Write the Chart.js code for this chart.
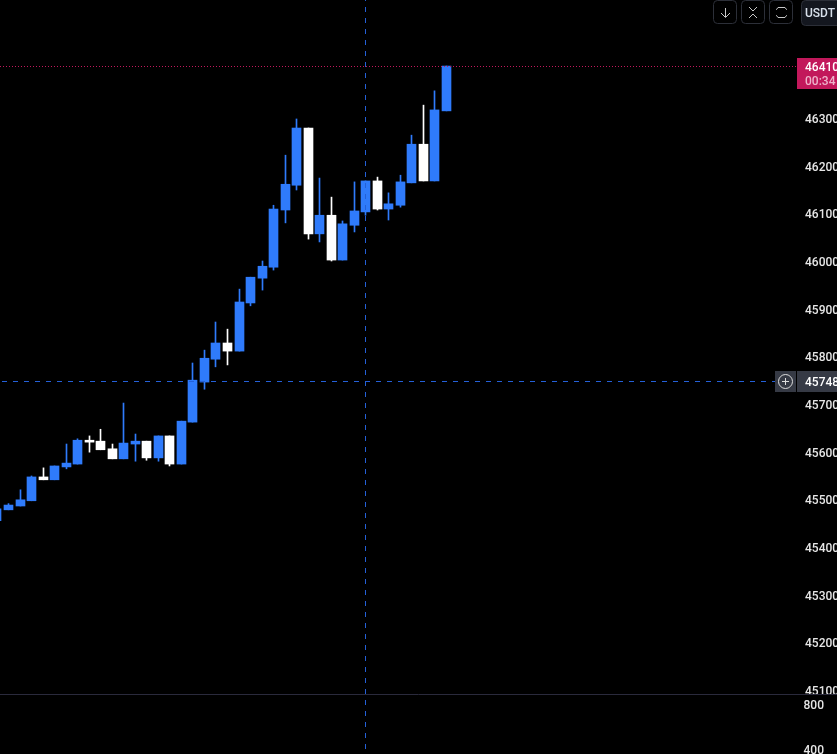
<!DOCTYPE html>
<html><head><meta charset="utf-8">
<style>html,body{margin:0;padding:0;background:#000;overflow:hidden}#w{position:relative;width:837px;height:754px}canvas{display:block}</style>
<script src="https://cdn.jsdelivr.net/npm/chart.js@4"></script>
</head><body><div id="w"><canvas id="c" width="837" height="754"></canvas></div>
<script>
const opens =[45455,45478,45486,45497,45547,45541,45568,45574,45624,45622,45606,45585,45616,45622,45587,45633,45574,45662,45746,45794,45828,45811,45912,45964,45987,46107,46159,46279,46057,46096,46002,46075,46103,46168,46109,46117,46164,46245,46168,46315];
const closes=[45480,45488,45499,45547,45541,45570,45576,45624,45620,45604,45585,45618,45622,45587,45633,45574,45664,45750,45796,45828,45811,45914,45966,45989,46109,46161,46279,46057,46096,46002,46078,46105,46168,46109,46120,46166,46245,46168,46317,46409];
const highs =[45480,45491,45520,45549,45566,45570,45616,45627,45633,45647,45616,45702,45637,45622,45633,45633,45664,45786,45813,45872,45857,45941,45966,46000,46117,46222,46298,46279,46174,46134,46084,46166,46168,46176,46143,46180,46264,46327,46357,46409];
const lows  =[45455,45478,45486,45497,45541,45541,45564,45574,45599,45604,45585,45585,45580,45582,45580,45570,45574,45662,45731,45778,45782,45811,45906,45939,45981,46080,46149,46046,46040,46000,46002,46061,46096,46107,46086,46113,46164,46168,46168,46315];
const priceTicks=[46300,46200,46100,46000,45900,45800,45700,45600,45500,45400,45300,45200,45100];
const volumeTicks=[800,400];
const lastPrice=46410, countdown='00:34', crossPrice=45748, crossIndex=32;
const unit='USDT';
const BLUE='#2f7bfb', WHITE='#ffffff', FG='#e6e6e6';

const idx=opens.map((_,i)=>i);
const wicks=idx.map(i=>({x:i,y:[lows[i],highs[i]]}));
const bodies=idx.map(i=>({x:i,y:[opens[i],closes[i]]}));
const colors=idx.map(i=>closes[i]>=opens[i]?BLUE:WHITE);

function rr(c,x,y,w,h,r){c.beginPath();c.roundRect(x,y,w,h,r);}
function line(c,pts){c.beginPath();pts.forEach((p,i)=>i?c.lineTo(p[0],p[1]):c.moveTo(p[0],p[1]));c.stroke();}

const snap={id:'snap',beforeDatasetsDraw(ch){
  ch.data.datasets.forEach((d,k)=>ch.getDatasetMeta(k).data.forEach(el=>{el.x=Math.floor(el.x)+.5;}));
}};
const under={id:'under',beforeDatasetsDraw(ch){
  const c=ch.ctx;c.save();c.lineWidth=1;
  c.strokeStyle='#2a2a3c';line(c,[[0,694.5],[837,694.5]]);
  c.restore();
}};
const over={id:'over',afterDraw(ch){
  const c=ch.ctx,py=ch.scales.y,px=ch.scales.x;c.save();c.lineWidth=1;
  const ly=Math.round(py.getPixelForValue(lastPrice));
  c.setLineDash([1,2]);c.strokeStyle='#c2185b';line(c,[[0,ly+.5],[797,ly+.5]]);
  const cy=Math.floor(py.getPixelForValue(crossPrice))+.5, cx=Math.floor(px.getPixelForValue(crossIndex))+.5;
  c.setLineDash([5,6]);c.strokeStyle='#2460d8';
  line(c,[[2,cy],[775,cy]]);line(c,[[cx,-4],[cx,754]]);
  c.setLineDash([]);
  c.fillStyle='#c2185b';c.fillRect(797,ly-8,40,31);
  c.font='500 12px Roboto';c.textBaseline='middle';c.textAlign='left';
  c.fillStyle='#ffffff';c.fillText(String(lastPrice),805,ly+2);
  c.fillStyle='#eeb4cb';c.fillText(countdown,805,ly+16);
  c.fillStyle='#363a45';c.fillRect(797,cy-10.5,40,21);c.fillRect(775,cy-10.5,21,21);
  c.fillStyle='#ffffff';c.fillText(String(crossPrice),805,cy+1.5);
  c.strokeStyle='#dddddd';c.beginPath();c.arc(785.5,cy,7,0,Math.PI*2);c.stroke();
  line(c,[[782,cy],[789,cy]]);line(c,[[785.5,cy-3.5],[785.5,cy+3.5]]);
  c.strokeStyle='#2c2f38';
  [713.5,741.5,769.5].forEach(b=>{rr(c,b,.5,23,23,4);c.stroke();});
  c.fillStyle='#14171f';rr(c,801.5,.5,40,25,4);c.fill();c.stroke();
  c.strokeStyle='#c8c8c8';
  line(c,[[725.5,8],[725.5,17]]);line(c,[[721,13],[725.5,17.5],[730,13]]);
  line(c,[[749,7],[753,11],[757,7]]);line(c,[[749,18],[753,14],[757,18]]);
  line(c,[[776.5,10],[776.5,9.5],[778,7.5],[785,7.5],[786.5,9.5],[786.5,10]]);
  line(c,[[776.5,15],[776.5,15.5],[778,17.5],[785,17.5],[786.5,15.5],[786.5,15]]);
  c.fillStyle='#d8e0ea';c.font='500 12px Roboto';c.fillText(unit,805,14);
  c.restore();
}};
const tickFont={family:'Roboto',size:12,weight:'500'};

new Chart(document.getElementById('c'),{
  type:'bar',
  data:{datasets:[
    {data:wicks,backgroundColor:colors,barThickness:1,grouped:false,yAxisID:'y',order:2},
    {data:bodies,backgroundColor:colors,barThickness:9,grouped:false,yAxisID:'y',order:1}
  ]},
  options:{
    responsive:false,animation:false,devicePixelRatio:1,
    layout:{padding:0},
    plugins:{legend:{display:false},tooltip:{enabled:false}},
    scales:{
      x:{type:'linear',display:false,offset:false,min:0.263,max:69.41},
      y:{position:'right',weight:2,min:44965.7,max:46547.6,
         grid:{display:false},border:{display:false},
         afterBuildTicks(a){a.ticks=priceTicks.map(v=>({value:v}));},
         afterFit(a){a.width=40;a.paddingTop=0;a.paddingBottom=0;},
         ticks:{padding:0,labelOffset:2,color:FG,font:tickFont,callback:v=>String(v),autoSkip:false,maxRotation:0}},
      v:{position:'right',weight:1,min:355.6,max:7058,
         grid:{display:false},border:{display:false},
         afterBuildTicks(a){a.ticks=volumeTicks.map(v=>({value:v}));},
         afterFit(a){a.width=0;a.paddingTop=0;a.paddingBottom=0;},
         ticks:{mirror:true,padding:27,labelOffset:2,color:FG,font:tickFont,callback:v=>String(v),autoSkip:false,maxRotation:0}}
    }
  },
  plugins:[under,snap,over]
});
</script></body></html>
